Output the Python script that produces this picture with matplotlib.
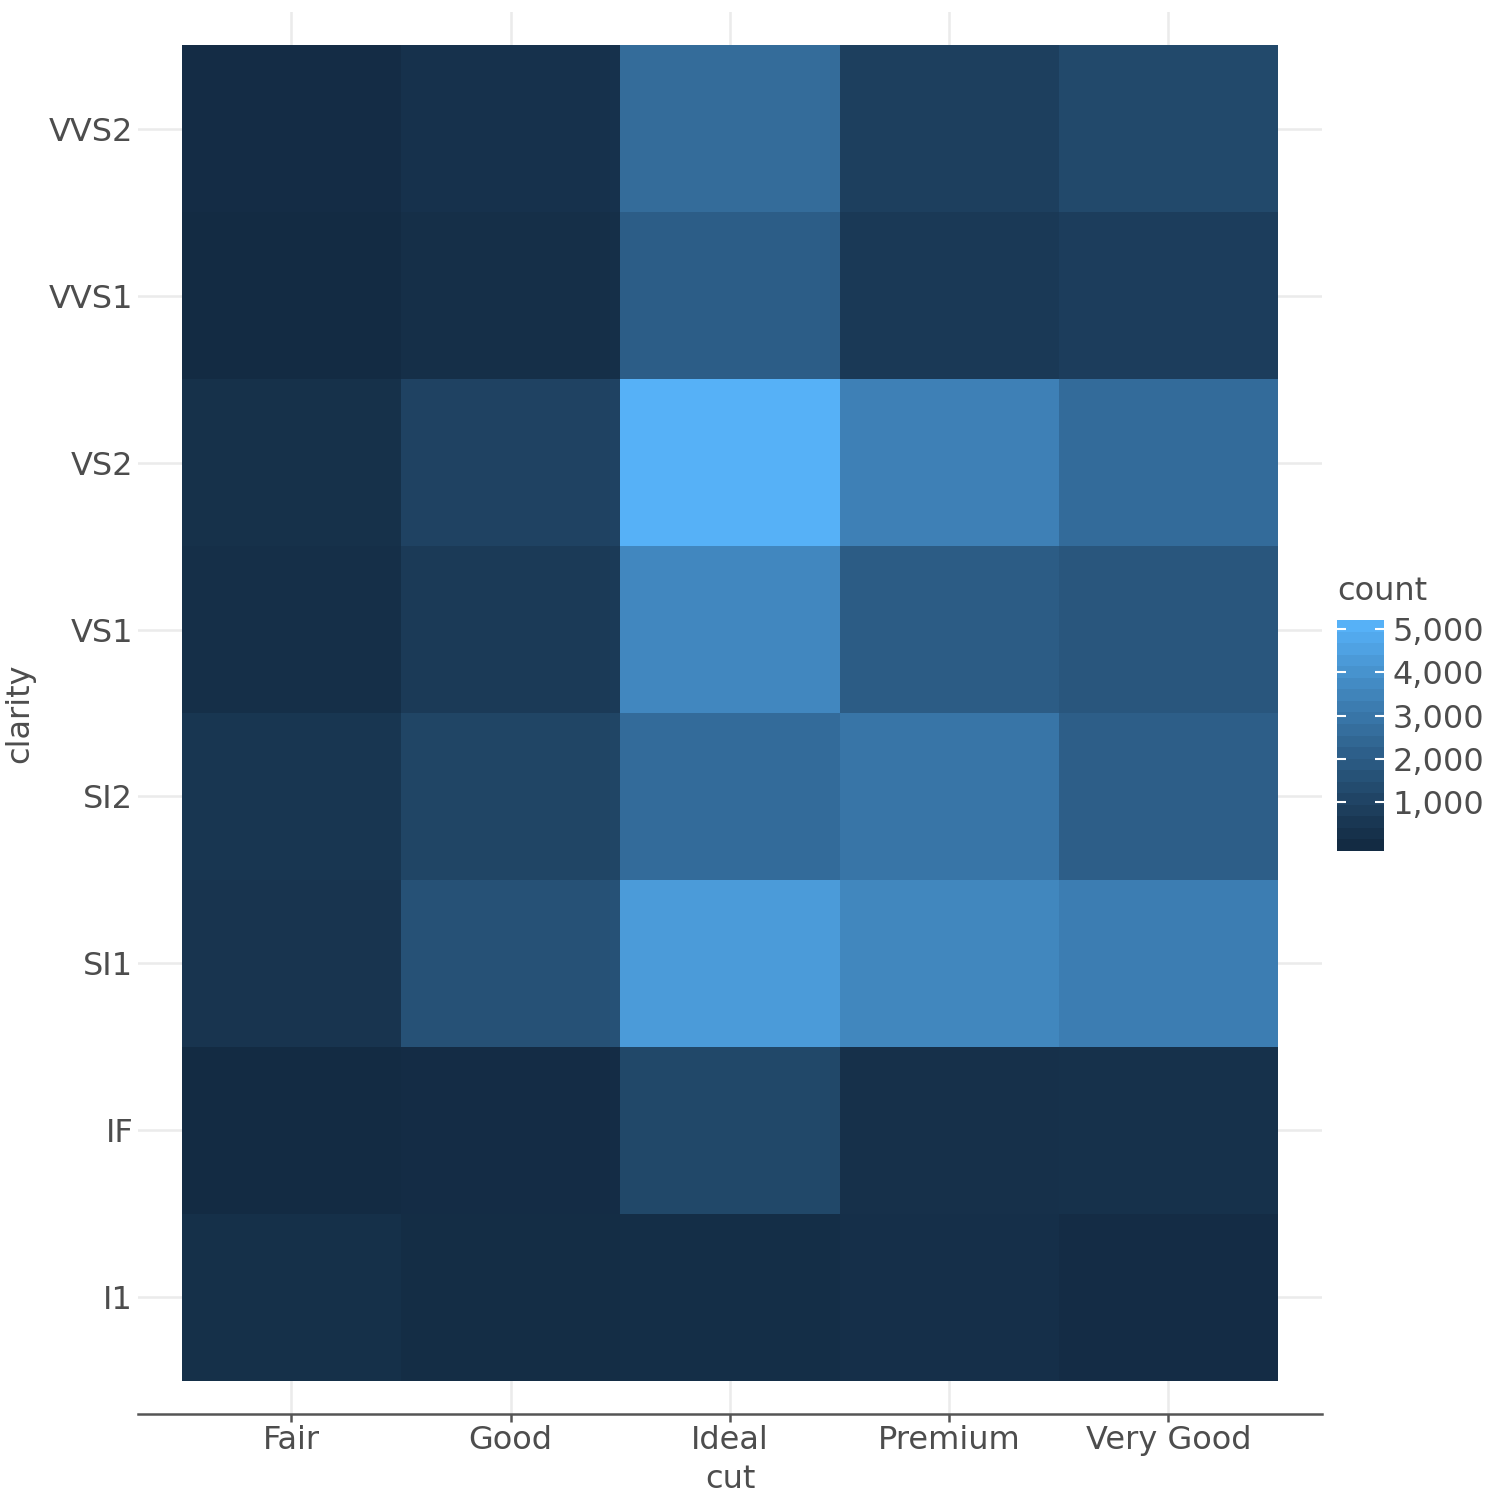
import numpy as np
import matplotlib
matplotlib.use("Agg")
import matplotlib.pyplot as plt
from matplotlib.colors import ListedColormap, Normalize

cuts = ["Fair", "Good", "Ideal", "Premium", "Very Good"]
clarities = ["I1", "IF", "SI1", "SI2", "VS1", "VS2", "VVS1", "VVS2"]

fair = [210, 9, 408, 466, 170, 261, 17, 69]
good = [96, 71, 1560, 1081, 648, 978, 186, 286]
ideal = [146, 1212, 4282, 2598, 3589, 5071, 2047, 2606]
premium = [205, 230, 3575, 2949, 1989, 3357, 616, 870]
very_good = [84, 268, 3240, 2100, 1775, 2591, 789, 1235]

cbar_breaks = [1000, 2000, 3000, 4000, 5000]
cbar_labels = ["1,000", "2,000", "3,000", "4,000", "5,000"]

counts = np.array([fair, good, ideal, premium, very_good]).T  # rows clarity, cols cut

# --- Lab interpolation like ggplot's seq_gradient_pal ---
def hex2rgb(h):
    h = h.lstrip('#')
    return np.array([int(h[i:i+2], 16) / 255 for i in (0, 2, 4)])

def srgb2lin(c):
    return np.where(c <= 0.04045, c / 12.92, ((c + 0.055) / 1.055) ** 2.4)

def lin2srgb(c):
    return np.where(c <= 0.0031308, 12.92 * c, 1.055 * np.clip(c, 0, None) ** (1 / 2.4) - 0.055)

M = np.array([[0.4124564, 0.3575761, 0.1804375],
              [0.2126729, 0.7151522, 0.0721750],
              [0.0193339, 0.1191920, 0.9503041]])
Minv = np.linalg.inv(M)
white = np.array([0.95047, 1.0, 1.08883])

def f(t):
    d = 6 / 29
    return np.where(t > d ** 3, np.cbrt(t), t / (3 * d * d) + 4 / 29)

def finv(t):
    d = 6 / 29
    return np.where(t > d, t ** 3, 3 * d * d * (t - 4 / 29))

def rgb2lab(rgb):
    xyz = M @ srgb2lin(rgb) / white
    fx, fy, fz = f(xyz)
    return np.array([116 * fy - 16, 500 * (fx - fy), 200 * (fy - fz)])

def lab2rgb(lab):
    L, a, b = lab
    fy = (L + 16) / 116
    fx = fy + a / 500
    fz = fy - b / 200
    xyz = np.array([finv(fx), finv(fy), finv(fz)]) * white
    return np.clip(lin2srgb(Minv @ xyz), 0, 1)

lo = rgb2lab(hex2rgb("#132B43"))
hi = rgb2lab(hex2rgb("#56B1F7"))
cols = [lab2rgb(lo + (hi - lo) * t) for t in np.linspace(0, 1, 256)]
cmap = ListedColormap(cols)
vmin, vmax = counts.min(), counts.max()
norm = Normalize(vmin=vmin, vmax=vmax)

text_col = "#4D4D4D"
fs = 23
fig = plt.figure(figsize=(15, 15), dpi=100)
ax = fig.add_axes([0.092, 0.0573, 0.7893, 0.9347])

xe = np.arange(len(cuts) + 1) - 0.5
ye = np.arange(len(clarities) + 1) - 0.5
mesh = ax.pcolormesh(xe, ye, counts, cmap=cmap, norm=norm, edgecolors='none', zorder=2)

ax.set_xlim(-0.7, len(cuts) - 0.3)
ax.set_ylim(-0.7, len(clarities) - 0.3)
ax.set_xticks(range(len(cuts)))
ax.set_xticklabels(cuts)
ax.set_yticks(range(len(clarities)))
ax.set_yticklabels(clarities)
ax.grid(True, color="#EBEBEB", linewidth=1.8, zorder=0)
ax.set_axisbelow(True)
for s in ["top", "right", "left"]:
    ax.spines[s].set_visible(False)
ax.spines["bottom"].set_color("#555555")
ax.spines["bottom"].set_linewidth(1.8)
ax.tick_params(axis='x', length=6, width=1.8, color="#555555", labelsize=fs, labelcolor=text_col, pad=2)
ax.tick_params(axis='y', length=0, labelsize=fs, labelcolor=text_col, pad=3.5)
ax.set_xlabel("cut", fontsize=fs, color=text_col, labelpad=6)
fig.text(20 / 1500, 1 - 713 / 1500, "clarity", fontsize=fs, color=text_col,
         rotation=90, ha='center', va='center')

# colourbar drawn like ggplot's (20 bins, half-bin padding)
nbin = 20
bin_vals = np.linspace(vmin, vmax, nbin)
h = (vmax - vmin) / (nbin - 1)
bin_edges = np.linspace(vmin - h / 2, vmax + h / 2, nbin + 1)
cax = fig.add_axes([0.8913, 1 - 851 / 1500, 0.0313, 231 / 1500])
cax.pcolormesh([0, 1], bin_edges, bin_vals.reshape(-1, 1), cmap=cmap, norm=norm, edgecolors='none')
cax.set_ylim(bin_edges[0], bin_edges[-1])
cax.set_xlim(0, 1)
for s in cax.spines.values():
    s.set_visible(False)
cax.set_xticks([])
cax.yaxis.tick_right()
cax.set_yticks(cbar_breaks)
cax.set_yticklabels(cbar_labels)
cax.tick_params(axis='y', direction='in', color='white', length=6.5, width=1.5, left=True, right=True,
                labelleft=False, labelright=True, labelsize=fs, labelcolor=text_col, pad=6)
fig.text(0.8913, 1 - 591 / 1500, "count", fontsize=fs, color=text_col, ha='left', va='center')

fig.savefig("out.png", dpi=100)
